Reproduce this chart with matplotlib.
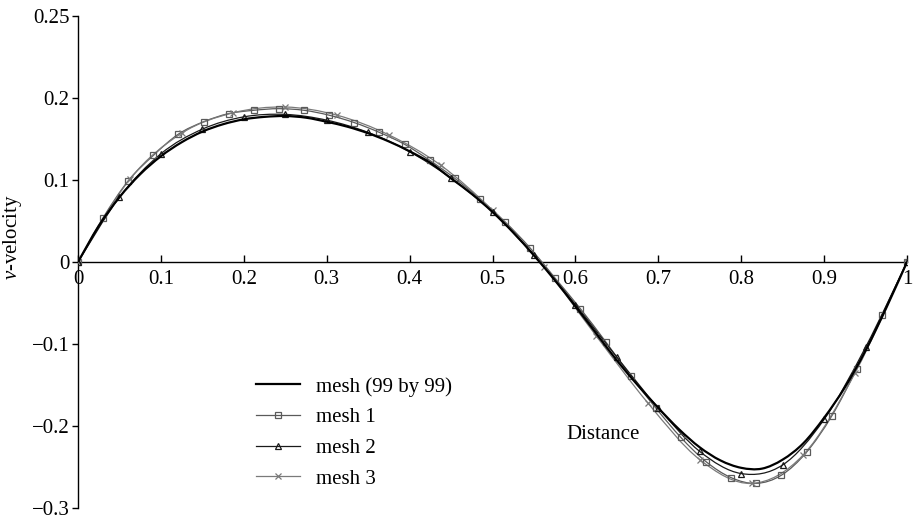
import numpy as np
import matplotlib
matplotlib.use('Agg')
from matplotlib import pyplot as plt
from matplotlib.path import Path
from matplotlib.patches import PathPatch
from matplotlib.lines import Line2D

plt.rcParams['font.family'] = ['Liberation Serif', 'DejaVu Serif']
plt.rcParams['mathtext.fontset'] = 'custom'
plt.rcParams['mathtext.rm'] = 'Liberation Serif'
plt.rcParams['mathtext.it'] = 'Liberation Serif:italic'

# fine mesh (99 by 99), every 0.025
x_fine = np.linspace(0, 1, 41)
v_fine = [0, 0.044, 0.079, 0.107, 0.129, 0.146, 0.159, 0.168, 0.174, 0.177,
          0.178, 0.176, 0.171, 0.165, 0.157, 0.147, 0.135, 0.121, 0.102, 0.083,
          0.061, 0.036, 0.008, -0.022, -0.054, -0.087, -0.120, -0.150, -0.178, -0.204,
          -0.226, -0.242, -0.251, -0.252, -0.241, -0.221, -0.190, -0.153, -0.108, -0.056,
          0]

# mesh 1 (squares)
x_mesh1 = np.linspace(0, 1, 34)
v_mesh1 = [0, 0.054, 0.099, 0.130, 0.156, 0.171, 0.181, 0.185, 0.187, 0.185,
           0.179, 0.170, 0.158, 0.1435, 0.124, 0.102, 0.077, 0.049, 0.017, -0.020,
           -0.057, -0.097, -0.139, -0.178, -0.214, -0.2435, -0.263, -0.270, -0.260, -0.232,
           -0.188, -0.130, -0.065, 0]

# mesh 2 (triangles)
x_mesh2 = np.linspace(0, 1, 21)
v_mesh2 = [0, 0.079, 0.132, 0.162, 0.177, 0.180, 0.173, 0.158, 0.1345, 0.102,
           0.061, 0.008, -0.052, -0.116, -0.178, -0.231, -0.258, -0.2475, -0.192, -0.104,
           0]

# mesh 3 (crosses)
x_mesh3 = np.linspace(0, 1, 17)
v_mesh3 = [0, 0.101, 0.157, 0.182, 0.189, 0.179, 0.155, 0.118, 0.063, -0.006,
           -0.090, -0.172, -0.241, -0.270, -0.235, -0.135, 0]

y_ticks = [-0.3, -0.2, -0.1, 0, 0.1, 0.2, 0.3]
y_ticklabels = ['\u22120.3', '\u22120.2', '\u22120.1', '0', '0.1', '0.2', '0.25']
x_ticks = [0, 0.1, 0.2, 0.3, 0.4, 0.5, 0.6, 0.7, 0.8, 0.9, 1]
x_ticklabels = ['0', '0.1', '0.2', '0.3', '0.4', '0.5', '0.6', '0.7', '0.8', '0.9', '1']

FS = 15


def smooth_path(x, y):
    # smoothed line through the points (Catmull-Rom as cubic Bezier)
    p = np.column_stack([x, y])
    n = len(p)
    verts = [p[0]]
    codes = [Path.MOVETO]
    for i in range(n - 1):
        p0 = p[i - 1] if i > 0 else p[i]
        p3 = p[i + 2] if i + 2 < n else p[i + 1]
        c1 = p[i] + (p[i + 1] - p0) / 6.0
        c2 = p[i + 1] - (p3 - p[i]) / 6.0
        verts += [c1, c2, p[i + 1]]
        codes += [Path.CURVE4] * 3
    return Path(verts, codes)


fig = plt.figure(figsize=(9.13, 5.22), dpi=100)
ax = fig.add_axes([78 / 913, 14 / 522, 829 / 913, 492 / 522])

series = [
    (x_mesh1, v_mesh1, '#5a5a5a', 's', 0.9, 5, 'mesh 1'),
    (x_mesh3, v_mesh3, '#7a7a7a', 'x', 0.9, 5, 'mesh 3'),
    (x_mesh2, v_mesh2, '#1a1a1a', '^', 0.9, 4.5, 'mesh 2'),
]
handles = {}
for xs, vs, col, mk, lw, ms, name in series:
    ax.add_patch(PathPatch(smooth_path(xs, vs), facecolor='none', edgecolor=col, lw=lw, zorder=3))
    ax.plot(xs, vs, linestyle='none', marker=mk, markersize=ms, markerfacecolor='none',
            markeredgecolor=col, markeredgewidth=0.9, zorder=4)
    handles[name] = Line2D([], [], color=col, lw=lw, marker=mk, markersize=ms,
                           markerfacecolor='none', markeredgecolor=col, markeredgewidth=0.9)

ax.add_patch(PathPatch(smooth_path(x_fine, v_fine), facecolor='none', edgecolor='black', lw=1.6, zorder=5))
handles['mesh (99 by 99)'] = Line2D([], [], color='black', lw=1.6)

ax.set_xlim(0, 1)
ax.set_ylim(-0.3, 0.3)
ax.set_yticks(y_ticks)
ax.set_yticklabels(y_ticklabels)
ax.set_xticks(x_ticks)
ax.set_xticklabels(x_ticklabels)

ax.spines['right'].set_color('none')
ax.spines['top'].set_color('none')
ax.spines['bottom'].set_position(('data', 0))
ax.spines['left'].set_linewidth(1.0)
ax.spines['bottom'].set_linewidth(1.0)
ax.tick_params(axis='y', direction='out', length=4, width=1, labelsize=FS, pad=2)
ax.tick_params(axis='x', direction='in', length=5, width=1, labelsize=FS, pad=6)
ax.patch.set_visible(False)

ax.text(0.633, -0.21, 'Distance', fontsize=FS, ha='center', va='center')
fig.text(13 / 913, 1 - 237 / 522, r'$v$-velocity', rotation=90, fontsize=FS,
         ha='center', va='center')

order = ['mesh (99 by 99)', 'mesh 1', 'mesh 2', 'mesh 3']
fig.legend([handles[k] for k in order], order, loc='upper left',
           bbox_to_anchor=(256 / 913, 1 - 377 / 522), frameon=False, fontsize=FS,
           handlelength=2.1, handletextpad=0.8, labelspacing=0.53,
           borderpad=0, borderaxespad=0)

fig.savefig('out.png', dpi=100)
